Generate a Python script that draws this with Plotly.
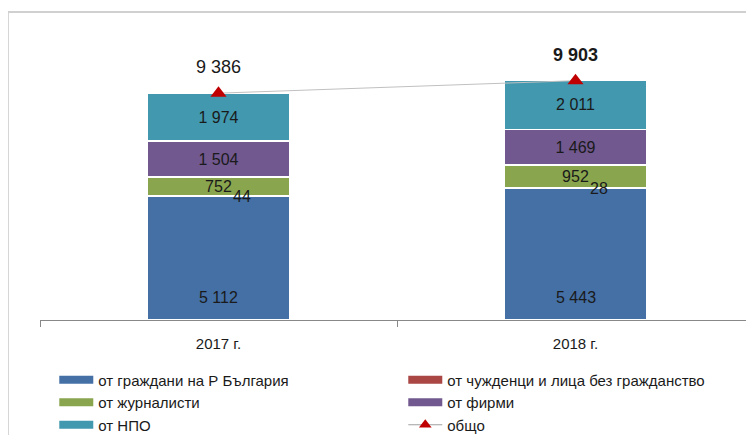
import plotly.graph_objects as go

categories = ["2017 г.", "2018 г."]
citizens = [5112, 5443]
foreigners = [44, 28]
journalists = [752, 952]
companies = [1504, 1469]
ngos = [1974, 2011]
totals = [9386, 9903]

names = ["от граждани на Р България", "от чужденци и лица без гражданство",
         "от журналисти", "от фирми", "от НПО", "общо"]
colors = ["#4470A6", "#AA4643", "#89A54E", "#71588F", "#4198AF"]

FONT = "Liberation Sans, Arial"
TXT = "#1a1a1a"

fig = go.Figure()
series = [citizens, foreigners, journalists, companies, ngos]
for i, (vals, name, col) in enumerate(zip(series, names[:5], colors)):
    if i in (0, 1):
        kw = dict(texttemplate="", textposition="none")
    else:
        kw = dict(texttemplate="%{y:,}", textposition="inside", insidetextanchor="middle")
    fig.add_trace(go.Bar(
        x=categories, y=vals, name=name, showlegend=False,
        marker=dict(color=col, line=dict(color="white", width=1.5)),
        textfont=dict(family=FONT, size=16, color=TXT),
        constraintext="none", cliponaxis=False, **kw))

fig.add_trace(go.Scatter(
    x=categories, y=totals, name=names[5], mode="lines+markers", showlegend=False,
    line=dict(color="#C0C0C0", width=1),
    marker=dict(symbol="triangle-up", size=14, color="#C00000"),
    cliponaxis=False))

# legend entries (wide rectangular swatches like the original)
for name, col in zip(names[:5], colors):
    fig.add_trace(go.Scatter(x=[None], y=[None], name=name, mode="lines",
                             line=dict(color=col, width=8)))
fig.add_trace(go.Scatter(x=[None], y=[None], name=names[5], mode="lines+markers",
                         line=dict(color="#A0A0A0", width=1),
                         marker=dict(symbol="triangle-up", size=11, color="#C00000")))

# base labels of the citizens segment
for cat, v in zip(categories, citizens):
    fig.add_annotation(x=cat, y=0, text=f"{v:,}".replace(",", " "), showarrow=False,
                       yshift=23, font=dict(family=FONT, size=16, color=TXT))

# total labels
for j, (cat, t) in enumerate(zip(categories, totals)):
    s = f"{t:,}".replace(",", " ")
    if j == 1:
        s = "<b>" + s + "</b>"
    fig.add_annotation(x=cat, y=t, text=s, showarrow=False, yshift=26,
                       font=dict(family=FONT, size=18, color=TXT))

# small-value labels for the foreigners segment
for cat, base, v in zip(categories, citizens, foreigners):
    fig.add_annotation(x=cat, y=base + v, text=str(v), showarrow=False,
                       xshift=23, yshift=-1,
                       font=dict(family=FONT, size=16, color=TXT))

# outer frame
fig.add_shape(type="line", xref="paper", yref="paper", x0=-0.045, x1=1.05, y0=1.062, y1=1.062,
              line=dict(color="#D0D0D0", width=2))
fig.add_shape(type="line", xref="paper", yref="paper", x0=-0.045, x1=-0.045, y0=-1, y1=1.062,
              line=dict(color="#D0D0D0", width=2))

fig.update_layout(
    barmode="stack", bargap=0.6,
    width=746, height=427,
    margin=dict(l=32, r=0, t=22, b=115, autoexpand=False),
    paper_bgcolor="white", plot_bgcolor="white",
    separators=", ",
    font=dict(family=FONT, size=15, color=TXT),
    showlegend=True,
    legend=dict(orientation="h", x=0.02, xanchor="left", y=-0.15, yanchor="top",
                entrywidth=300, entrywidthmode="pixels", tracegroupgap=0,
                font=dict(family=FONT, size=15, color=TXT), itemwidth=34, traceorder="normal"),
)
fig.update_xaxes(showline=True, linecolor="#888888", linewidth=1, ticks="outside",
                 tickson="boundaries", ticklen=6, tickcolor="#888888", ticklabelstandoff=10,
                 tickfont=dict(family=FONT, size=15, color=TXT), range=[-0.5, 1.5])
fig.update_yaxes(visible=False, range=[0, 12000])

fig.write_html("out.html")
